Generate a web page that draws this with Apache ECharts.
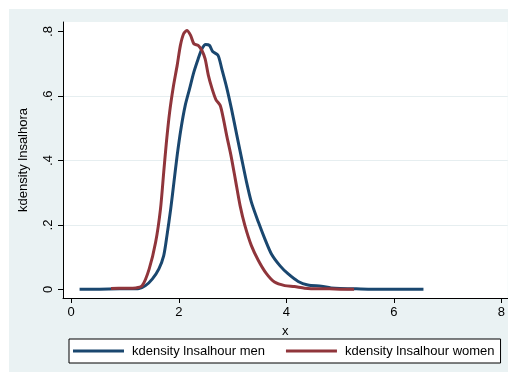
<!DOCTYPE html>
<html>
<head>
<meta charset="utf-8">
<script src="https://cdn.jsdelivr.net/npm/echarts@6/dist/echarts.min.js"></script>
<style>
html,body{margin:0;padding:0;background:#fff;width:508px;height:372px;overflow:hidden;}
#chart{position:absolute;left:9px;top:9px;width:499px;height:363px;background:#EAF2F3;}
</style>
</head>
<body>
<div id="chart"></div>
<script>
// Tick labels
var xTicks = [0, 2, 4, 6, 8];
var yTicks = [0, 0.2, 0.4, 0.6, 0.8];
var seriesNames = ['kdensity lnsalhour men', 'kdensity lnsalhour women'];
var xTitle = 'x';
var yTitle = 'kdensity lnsalhora';

// kdensity men: [x, density]
var menData = [
  [0.155, 0.001], [0.5, 0.001], [0.9, 0.002], [1.1, 0.002], [1.26, 0.003],
  [1.38, 0.012], [1.51, 0.033], [1.63, 0.064], [1.72, 0.105], [1.78, 0.167],
  [1.85, 0.25], [1.91, 0.333], [1.97, 0.416], [2.04, 0.498], [2.12, 0.571],
  [2.20, 0.622], [2.28, 0.674], [2.36, 0.715], [2.43, 0.746], [2.50, 0.760],
  [2.57, 0.757], [2.63, 0.738], [2.73, 0.726], [2.80, 0.684], [2.89, 0.627],
  [2.98, 0.560], [3.08, 0.478], [3.17, 0.405], [3.26, 0.333], [3.35, 0.271],
  [3.48, 0.209], [3.60, 0.157], [3.72, 0.111], [3.88, 0.074], [4.03, 0.049],
  [4.22, 0.025], [4.40, 0.014], [4.65, 0.010], [4.83, 0.005], [5.0, 0.003],
  [5.3, 0.002], [5.6, 0.001], [6.0, 0.001], [6.3, 0.001], [6.55, 0.001]
];

// kdensity women: [x, density]
var womenData = [
  [0.74, 0.003], [1.0, 0.004], [1.2, 0.005], [1.32, 0.012], [1.45, 0.064],
  [1.57, 0.147], [1.66, 0.25], [1.72, 0.364], [1.77, 0.457], [1.83, 0.55],
  [1.90, 0.630], [1.97, 0.695], [2.03, 0.757], [2.09, 0.793], [2.15, 0.803],
  [2.22, 0.788], [2.28, 0.762], [2.36, 0.757], [2.43, 0.741], [2.49, 0.715],
  [2.55, 0.664], [2.62, 0.622], [2.69, 0.589], [2.77, 0.571], [2.83, 0.529],
  [2.89, 0.478], [2.97, 0.416], [3.05, 0.343], [3.14, 0.26], [3.23, 0.198],
  [3.35, 0.136], [3.48, 0.09], [3.63, 0.049], [3.78, 0.023], [3.97, 0.012],
  [4.15, 0.009], [4.34, 0.004], [4.58, 0.002], [4.8, 0.002], [5.0, 0.001],
  [5.26, 0.001]
];

var font = '"Liberation Sans", Arial, sans-serif';
var chart = echarts.init(document.getElementById('chart'));
chart.setOption({
  animation: false,
  grid: {
    left: 51, right: 0, top: 13, bottom: 74,
    show: true, backgroundColor: '#ffffff', borderWidth: 0, containLabel: false
  },
  xAxis: {
    type: 'value',
    min: -0.1532, max: 8.117,
    name: xTitle, nameLocation: 'middle', nameGap: 27,
    nameTextStyle: {fontFamily: font, fontSize: 13, color: '#000'},
    axisLine: {show: true, onZero: false, lineStyle: {color: '#000', width: 1}},
    axisTick: {show: true, length: 5, customValues: xTicks, lineStyle: {color: '#000'}},
    axisLabel: {customValues: xTicks, margin: 8, fontFamily: font, fontSize: 13, color: '#000',
      formatter: function (v) { return String(v); }},
    splitLine: {show: false}
  },
  yAxis: {
    type: 'value',
    min: -0.02636, max: 0.8295,
    name: yTitle, nameLocation: 'middle', nameGap: 33, nameRotate: 90,
    nameTextStyle: {fontFamily: font, fontSize: 13, color: '#000'},
    axisLine: {show: true, onZero: false, lineStyle: {color: '#000', width: 1}},
    axisTick: {show: true, length: 5, customValues: yTicks, lineStyle: {color: '#000'}},
    axisLabel: {customValues: yTicks, rotate: 90, margin: 8, fontFamily: font, fontSize: 13, color: '#000',
      formatter: function (v) {
        if (Math.abs(v) < 1e-9) return '0';
        return String(+v.toFixed(1)).replace(/^0\./, '.');
      }},
    splitLine: {show: true, showMinLine: false, showMaxLine: false,
      lineStyle: {color: '#E6EEF0', width: 1}}
  },
  legend: {
    left: 60, top: 330,
    padding: [5, 6, 5, 4],
    itemGap: 21, itemWidth: 51, itemHeight: 3,
    icon: 'rect',
    backgroundColor: '#ffffff', borderColor: '#000', borderWidth: 1, borderRadius: 0,
    textStyle: {fontFamily: font, fontSize: 13, lineHeight: 14, color: '#000', padding: [0, 0, 0, 3]},
    data: seriesNames
  },
  series: [
    {
      name: seriesNames[0], type: 'line', data: menData,
      showSymbol: false, symbol: 'none', smooth: 0.25,
      lineStyle: {color: '#1A476F', width: 3}, itemStyle: {color: '#1A476F'}
    },
    {
      name: seriesNames[1], type: 'line', data: womenData,
      showSymbol: false, symbol: 'none', smooth: 0.25,
      lineStyle: {color: '#90353B', width: 3}, itemStyle: {color: '#90353B'}
    }
  ]
});
</script>
</body>
</html>
